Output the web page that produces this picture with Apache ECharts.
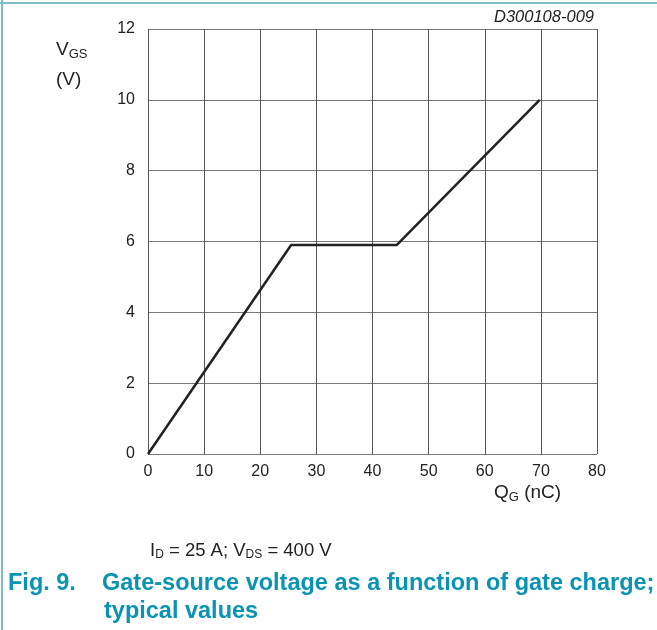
<!DOCTYPE html>
<html>
<head>
    <meta charset="utf-8" />
    <title>Gate-source voltage</title>
    <script src="https://cdn.jsdelivr.net/npm/echarts@6/dist/echarts.min.js"></script>
    <style>
        html, body { margin: 0; padding: 0; background: #fff; }
        #main { width: 657px; height: 630px; }
    </style>
</head>
<body>
    <div id="main"></div>
</body>
</html>
<script>
    // Qg (nC), Vgs (V)
    var qg = [0, 25.5, 44.3, 69.8];
    var vgs = [0, 5.9, 5.9, 10.0];
    var xTicks = [0, 10, 20, 30, 40, 50, 60, 70, 80];
    var yTicks = [0, 2, 4, 6, 8, 10, 12];

    var font = 'Liberation Sans, Arial, sans-serif';
    var myChart = echarts.init(document.getElementById('main'));

    var option = {
        backgroundColor: '#fff',
        animation: false,
        grid: { left: 148, top: 29, width: 449, height: 425, show: false },
        xAxis: {
            type: 'value', min: xTicks[0], max: xTicks[xTicks.length - 1], interval: 10,
            axisLine: { show: false },
            axisTick: { show: false },
            splitLine: { show: true, lineStyle: { color: '#555', width: 1 } },
            axisLabel: { color: '#222', fontSize: 16, fontFamily: font, margin: 10 }
        },
        yAxis: {
            type: 'value', min: yTicks[0], max: yTicks[yTicks.length - 1], interval: 2,
            axisLine: { show: false },
            axisTick: { show: false },
            splitLine: { show: true, lineStyle: { color: '#777', width: 1 } },
            axisLabel: { color: '#222', fontSize: 16, fontFamily: font, margin: 13 }
        },
        series: [{
            type: 'line',
            data: qg.map(function (x, i) { return [x, vgs[i]]; }),
            symbol: 'none',
            lineStyle: { color: '#222', width: 2.5 }
        }],
        graphic: [
            { type: 'line', shape: { x1: 2, y1: 0, x2: 2, y2: 630 }, style: { stroke: '#7cbccb', lineWidth: 2 } },
            { type: 'line', shape: { x1: 0, y1: 3, x2: 657, y2: 3 }, style: { stroke: '#7cbccb', lineWidth: 2 } },
            {
                type: 'text', left: 494, top: 9,
                style: { text: 'D300108-009', font: 'italic 16.5px ' + font, fill: '#222' }
            },
            {
                type: 'text', left: 56, top: 40,
                style: {
                    text: '{a|V}{s|GS}', fill: '#222',
                    rich: { a: { fontSize: 19, fontFamily: font }, s: { fontSize: 13, fontFamily: font, padding: [9, 0, 0, 0] } }
                }
            },
            {
                type: 'text', left: 56, top: 70,
                style: { text: '(V)', font: '19px ' + font, fill: '#222' }
            },
            {
                type: 'text', left: 494, top: 483,
                style: {
                    text: '{a|Q}{s|G}{a| (nC)}', fill: '#222',
                    rich: { a: { fontSize: 19, fontFamily: font }, s: { fontSize: 13, fontFamily: font, padding: [9, 0, 0, 0] } }
                }
            },
            {
                type: 'text', left: 150, top: 541,
                style: {
                    text: '{a|I}{s|D}{a| = 25 A; V}{s|DS}{a| = 400 V}', fill: '#222',
                    rich: { a: { fontSize: 18.5, fontFamily: font }, s: { fontSize: 12, fontFamily: font, padding: [9, 0, 0, 0] } }
                }
            },
            {
                type: 'text', left: 8, top: 572,
                style: { text: 'Fig. 9.', font: 'bold 23.5px ' + font, fill: '#0a93b3' }
            },
            {
                type: 'text', left: 102, top: 572,
                style: { text: 'Gate-source voltage as a function of gate charge;', font: 'bold 23.5px ' + font, fill: '#0a93b3' }
            },
            {
                type: 'text', left: 104, top: 600,
                style: { text: 'typical values', font: 'bold 23.5px ' + font, fill: '#0a93b3' }
            }
        ]
    };
    myChart.setOption(option);
</script>
